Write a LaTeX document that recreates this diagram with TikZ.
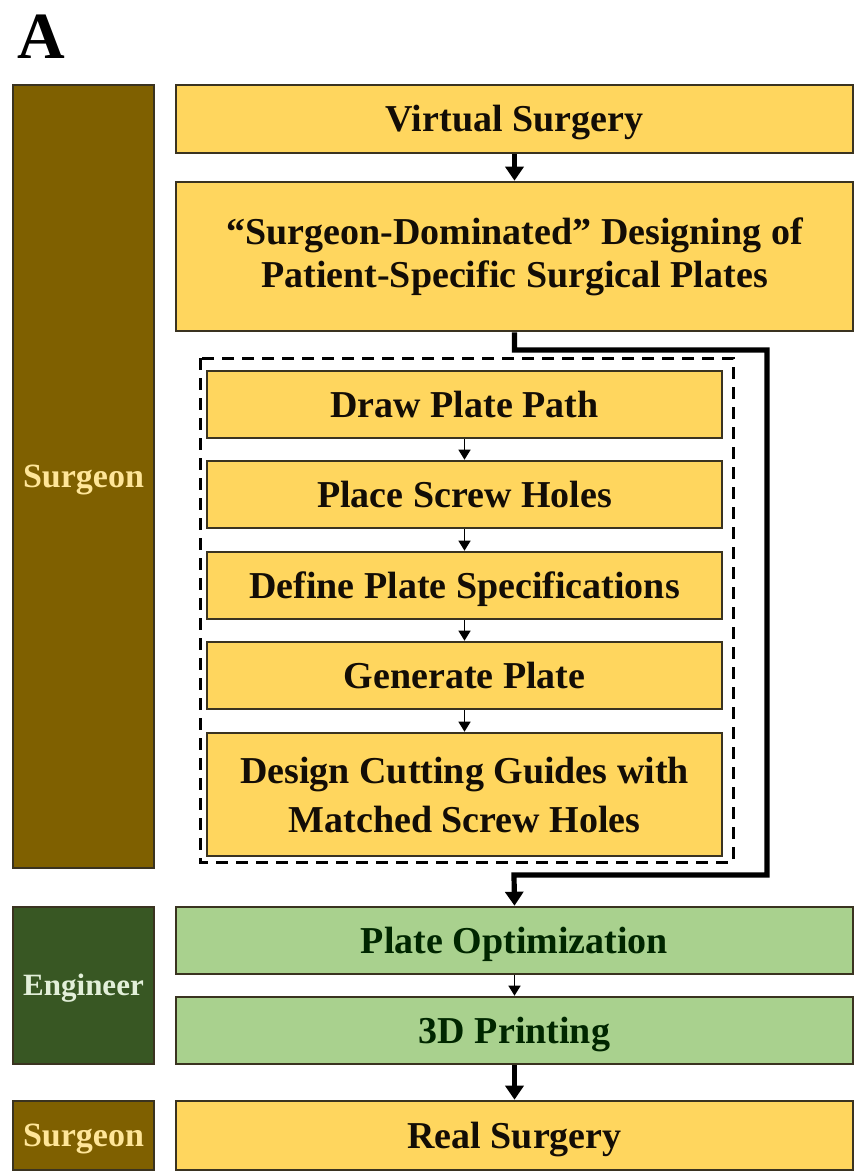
\documentclass[tikz,border=0pt]{standalone}
\usepackage{fontspec}
\setmainfont{Liberation Serif}
\usepackage{xcolor}
\usetikzlibrary{arrows.meta}

\definecolor{surgbrown}{HTML}{7F6000}
\definecolor{surgtext}{HTML}{FFE699}
\definecolor{engdark}{HTML}{385723}
\definecolor{engtext}{HTML}{E2EFD9}
\definecolor{stepyellow}{HTML}{FFD65E}
\definecolor{stepgreen}{HTML}{A9D18E}
\definecolor{boxline}{HTML}{3A3320}

\tikzset{
    rolebox/.style={draw=boxline, line width=1.3pt, minimum width=70.5pt, inner sep=0pt,
        text height=11pt, text depth=0pt,
        font=\bfseries\fontsize{17}{20}\selectfont},
    stepbox/.style={draw=boxline, line width=1.3pt, fill=stepyellow, text=black!90!brown,
        minimum width=338.5pt, minimum height=34pt, inner sep=0pt, align=center,
        text height=12.5pt, text depth=0pt,
        font=\bfseries\fontsize{19}{21.5}\selectfont},
    twoline/.style={text height=, text depth=},
    substep/.style={stepbox, minimum width=257.5pt, minimum height=33.5pt},
    greenstep/.style={stepbox, fill=stepgreen, text=black!85!green},
    bigflow/.style={-{Triangle[length=7pt, width=9pt]}, line width=2.6pt},
    smallflow/.style={-{Triangle[length=5pt, width=6pt]}, line width=0.7pt},
}

\begin{document}
\begin{tikzpicture}[x=0.5pt, y=-0.5pt]
    \useasboundingbox (0,0) rectangle (867,1174);

    \node[anchor=base west, inner sep=0pt, font=\bfseries\fontsize{33}{33}\selectfont] (panel) at (17,58) {A};

    % roles
    \node[rolebox, fill=surgbrown, text=surgtext, minimum height=391.5pt] (surgeon) at (83.5,476.5) {Surgeon};
    \node[rolebox, fill=engdark, text=engtext, minimum height=78.5pt, text height=10pt, font=\bfseries\fontsize{15.5}{18}\selectfont] (engineer) at (83.5,985.5) {Engineer};
    \node[rolebox, fill=surgbrown, text=surgtext, minimum height=34.5pt] (surgeon2) at (83.5,1135.5) {Surgeon};

    % main steps
    \node[stepbox] (virtual) at (514.5,119) {Virtual Surgery};
    \node[stepbox, twoline, minimum height=74.5pt] (design) at (514.5,256.5) {“Surgeon-Dominated” Designing of\\Patient-Specific Surgical Plates};

    % design sub-steps
    \draw[dash pattern=on 6pt off 4pt, line width=1.5pt] (200,358) rectangle (733,862);
    \node[substep] (path) at (464.5,404.5) {Draw Plate Path};
    \node[substep] (holes) at (464.5,494.5) {Place Screw Holes};
    \node[substep] (specs) at (464.5,585.5) {Define Plate Specifications};
    \node[substep] (generate) at (464.5,675.5) {Generate Plate};
    \node[substep, twoline, minimum height=61.5pt, font=\bfseries\fontsize{19}{24.5}\selectfont] (guides) at (464.5,794.5) {Design Cutting Guides with\\Matched Screw Holes};

    \node[greenstep, minimum height=33.5pt] (optim) at (514.5,940.5) {Plate Optimization};
    \node[greenstep, minimum height=33.5pt] (printing) at (514.5,1030.5) {3D Printing};
    \node[stepbox, minimum height=34.5pt] (real) at (514.5,1135.5) {Real Surgery};

    % flow
    \coordinate (turnA) at (767,350);
    \coordinate (turnB) at (514,875);
    \draw[bigflow] (virtual) -- (design);
    \draw[bigflow] (design.south) |- (turnA) |- (turnB) -- (optim.north);
    \draw[smallflow] (path) -- (holes);
    \draw[smallflow] (holes) -- (specs);
    \draw[smallflow] (specs) -- (generate);
    \draw[smallflow] (generate) -- (guides);
    \draw[smallflow] (optim) -- (printing);
    \draw[bigflow] (printing) -- (real);
\end{tikzpicture}
\end{document}
